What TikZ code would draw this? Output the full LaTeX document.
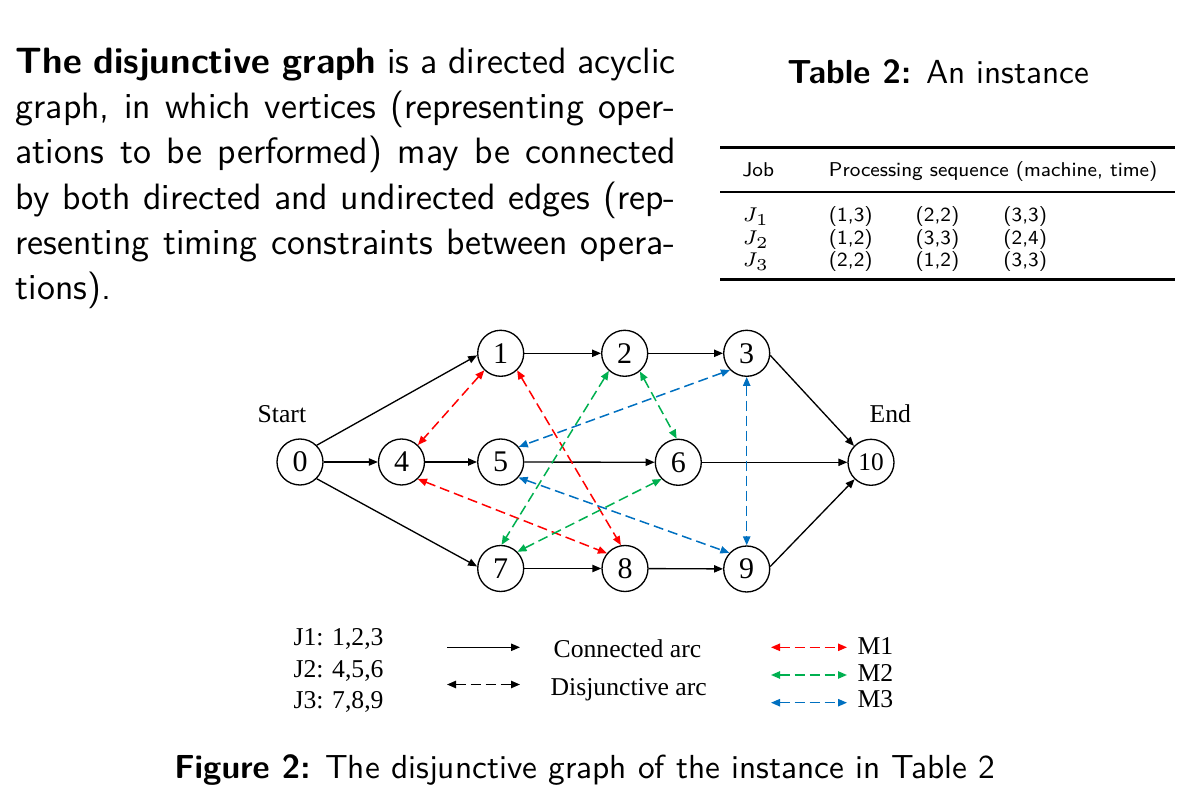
\documentclass[tikz,border=0pt]{standalone}
\usepackage{fontspec}
\newfontfamily\tnr{Liberation Serif}
\usetikzlibrary{arrows.meta}
\definecolor{mred}{RGB}{255,0,0}
\definecolor{mgreen}{RGB}{0,176,80}
\definecolor{mblue}{RGB}{0,112,192}
\begin{document}
\begin{tikzpicture}[x=0.3pt,y=-0.3pt,
  opnode/.style={circle,draw,line width=0.4pt,minimum size=13.8pt,inner sep=0pt,font=\tnr\fontsize{9}{9}\selectfont},
  connarc/.style={-{Triangle[length=2.7pt,width=2.2pt]},line width=0.4pt},
  disjarc/.style={{Triangle[length=2.7pt,width=2.2pt]}-{Triangle[length=2.7pt,width=2.2pt]},line width=0.45pt,dash pattern=on 3pt off 1.5pt},
  labtext/.style={anchor=base west,inner sep=0pt,font=\tnr\fontsize{7.7}{7.7}\selectfont},
  bodytext/.style={anchor=base west,inner sep=0pt,font=\sffamily\fontsize{11}{13.6}\selectfont},
  captext/.style={anchor=base,inner sep=0pt,font=\sffamily\fontsize{10}{12}\selectfont},
  tabtext/.style={anchor=base west,inner sep=0pt,font=\sffamily\fontsize{6}{7}\selectfont},
  heavyrule/.style={line width=0.9pt},
  lightrule/.style={line width=0.5pt}]
\useasboundingbox (0,0) rectangle (1182,794);
% paragraph
\node[bodytext] (p1) at (15,73.3) {\makebox[198pt][s]{\textbf{The disjunctive graph} is a directed acyclic}};
\node[bodytext] (p2) at (15,118.6) {\makebox[198pt][s]{graph, in which vertices (representing oper-}};
\node[bodytext] (p3) at (15,163.9) {\makebox[198pt][s]{ations to be performed) may be connected}};
\node[bodytext] (p4) at (15,209.2) {\makebox[198pt][s]{by both directed and undirected edges (rep-}};
\node[bodytext] (p5) at (15,254.5) {\makebox[198pt][s]{resenting timing constraints between opera-}};
\node[bodytext] (p6) at (15,299.8) {tions).};
% table
\node[captext] (tt) at (938.4,83.3) {\textbf{Table 2:} An instance};
\coordinate (r1a) at (720,147.3); \coordinate (r1b) at (1175,147.3);
\coordinate (r2a) at (720,191.7); \coordinate (r2b) at (1175,191.7);
\coordinate (r3a) at (720,280); \coordinate (r3b) at (1175,280);
\draw[heavyrule] (r1a) -- (r1b);
\draw[lightrule] (r2a) -- (r2b);
\draw[heavyrule] (r3a) -- (r3b);
\node[tabtext] (hj) at (741.7,176.7) {Job};
\node[tabtext] (hp) at (828.3,176.7) {Processing sequence (machine, time)};
\node[tabtext] (j1) at (741.7,221.7) {$J_1$};
\node[tabtext] (j2) at (741.7,244.3) {$J_2$};
\node[tabtext] (j3) at (741.7,266.7) {$J_3$};
\node[tabtext] (a1) at (828.3,221.7) {(1,3)};
\node[tabtext] (b1) at (915,221.7) {(2,2)};
\node[tabtext] (c1) at (1002.7,221.7) {(3,3)};
\node[tabtext] (a2) at (828.3,244.3) {(1,2)};
\node[tabtext] (b2) at (915,244.3) {(3,3)};
\node[tabtext] (c2) at (1002.7,244.3) {(2,4)};
\node[tabtext] (a3) at (828.3,266.7) {(2,2)};
\node[tabtext] (b3) at (915,266.7) {(1,2)};
\node[tabtext] (c3) at (1002.7,266.7) {(3,3)};
% graph nodes
\node[opnode] (n0) at (300,462) {0};
\node[opnode] (n4) at (401.5,462) {4};
\node[opnode] (n1) at (500.7,353.3) {1};
\node[opnode] (n5) at (500.7,462) {5};
\node[opnode] (n7) at (500.7,568.5) {7};
\node[opnode] (n2) at (624.7,353.3) {2};
\node[opnode] (n8) at (625,568.5) {8};
\node[opnode] (n6) at (678.3,462.3) {6};
\node[opnode] (n3) at (746.7,353.3) {3};
\node[opnode] (n9) at (746.7,569) {9};
\node[opnode,font=\tnr\fontsize{7.6}{7.6}\selectfont] (n10) at (871,462.3) {10};
\node[labtext] (st) at (257,423) {Start};
\node[labtext] (en) at (869,423) {End};
% connected arcs
\draw[connarc] (n0.45) -- (n1.185);
\draw[connarc] (n0) -- (n4);
\draw[connarc] (n0.-45) -- (n7.175);
\draw[connarc] (n1) -- (n2);
\draw[connarc] (n2) -- (n3);
\draw[connarc] (n4) -- (n5);
\draw[connarc] (n5) -- (n6);
\draw[connarc] (n6) -- (n10);
\draw[connarc] (n7) -- (n8);
\draw[connarc] (n8) -- (n9);
\draw[connarc] (n3.-5) -- (n10.136);
\draw[connarc] (n9.6) -- (n10.226);
% disjunctive arcs
\draw[disjarc,mred] (n1.226) -- (n4.46);
\draw[disjarc,mred] (n1.314) -- (n8.100);
\draw[disjarc,mred] (n4.-46) -- (n8.140);
\draw[disjarc,mgreen] (n2.228) -- (n7.88);
\draw[disjarc,mgreen] (n2.-50) -- (n6.94);
\draw[disjarc,mgreen] (n7.45) -- (n6.225);
\draw[disjarc,mblue] (n3.225) -- (n5.40);
\draw[disjarc,mblue] (n3.270) -- (n9.90);
\draw[disjarc,mblue] (n5.-41) -- (n9.137);
% legend
\node[labtext] (lj1) at (293,645) {J1: 1,2,3};
\node[labtext] (lj2) at (293,677) {J2: 4,5,6};
\node[labtext] (lj3) at (293,709) {J3: 7,8,9};
\coordinate (ca) at (447,647.3); \coordinate (cb) at (520,647.3);
\coordinate (da) at (447,684.5); \coordinate (db) at (520,684.5);
\draw[connarc] (ca) -- (cb);
\draw[disjarc,black] (da) -- (db);
\node[labtext] (lc) at (553,657.5) {Connected arc};
\node[labtext] (ld) at (550,695) {Disjunctive arc};
\coordinate (m1a) at (771,647.3); \coordinate (m1b) at (847,647.3);
\coordinate (m2a) at (771,675); \coordinate (m2b) at (847,675);
\coordinate (m3a) at (771,702.7); \coordinate (m3b) at (847,702.7);
\draw[disjarc,mred] (m1a) -- (m1b);
\draw[disjarc,mgreen] (m2a) -- (m2b);
\draw[disjarc,mblue] (m3a) -- (m3b);
\node[labtext] (lm1) at (857,654.3) {M1};
\node[labtext] (lm2) at (857,681.7) {M2};
\node[labtext] (lm3) at (857,708) {M3};
% caption
\node[captext] (fc) at (584.8,779) {\textbf{Figure 2:} The disjunctive graph of the instance in Table 2};
\end{tikzpicture}
\end{document}
